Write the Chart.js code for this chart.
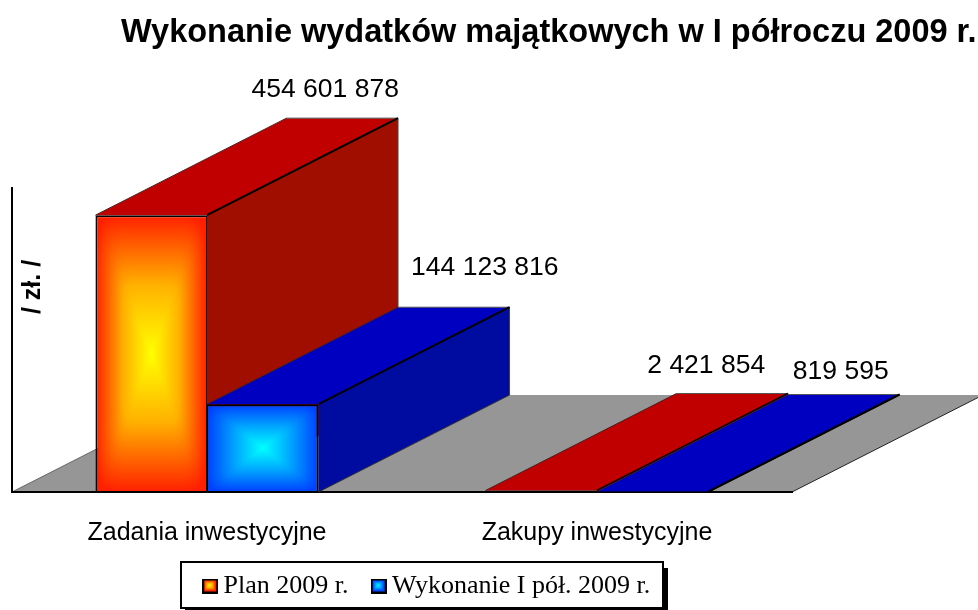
<!DOCTYPE html>
<html><head><meta charset="utf-8">
<style>html,body{margin:0;padding:0;background:#fff;overflow:hidden}#w{position:relative;width:978px;height:610px}</style>
<script src="https://cdn.jsdelivr.net/npm/chart.js@4"></script></head>
<body><div id="w"><canvas id="c" width="978" height="610"></canvas></div>
<script>
const categories = ["Zadania inwestycyjne", "Zakupy inwestycyjne"];
const seriesNames = ["Plan 2009 r.", "Wykonanie I pół. 2009 r."];
const planValues = [454601878, 2421854];
const actualValues = [144123816, 819595];
const chartTitle = "Wykonanie wydatków majątkowych w I półroczu 2009 r.";
const axisTitle = "/ zł. /";
const axisMax = 500000000;

const depthX = 191, depthY = 97, catPct = 0.572;
const faces = [
  {top:"#C00000", side:"#A00E00", stops:[[255,32,0],[255,176,0],[255,255,0]]},
  {top:"#0000C0", side:"#000C9F", stops:[[0,64,255],[0,165,255],[0,255,255]]}
];
const labelShift = [[[-17, -5], [-26, -5]], [[31, -16], [-3, 0]]]; // dataset, category: offset from the back top edge

const fmt = v => String(v).replace(/\B(?=(\d{3})+$)/g, " ");

function paintPathGradient(g, x0, y0, w, h, stops, pad) {
  const X = Math.floor(x0) - pad, Y = Math.floor(y0) - pad;
  const W = Math.ceil(w) + 2*pad + 1, H = Math.ceil(h) + 2*pad + 1;
  const img = g.createImageData(W, H), cx = x0 + w/2, cy = y0 + h/2, P = 8;
  for (let j = 0; j < H; j++) for (let i = 0; i < W; i++) {
    const dx = Math.abs(X + i + .5 - cx) / (w/2), dy = Math.abs(Y + j + .5 - cy) / (h/2);
    let t = 1 - Math.pow(Math.pow(dx, P) + Math.pow(dy, P), 1/P);
    t = Math.max(0, Math.min(1, t));
    const a = t < .5 ? stops[0] : stops[1], b = t < .5 ? stops[1] : stops[2], u = t < .5 ? t*2 : t*2 - 1;
    const k = (j*W + i)*4;
    for (let c = 0; c < 3; c++) img.data[k+c] = a[c] + (b[c]-a[c])*u;
    img.data[k+3] = 255;
  }
  g.putImageData(img, X, Y);
}
function frontFill(ctx) {
  const chart = ctx.chart, f = faces[ctx.datasetIndex];
  const xs = chart.scales.x, ys = chart.scales.y;
  if (!xs || xs.width <= 0 || ctx.dataIndex === undefined) return "#000";
  const centre = xs.getPixelForValue(ctx.dataIndex);
  const bw = xs.width / categories.length * catPct / 2;
  const x0 = centre + (ctx.datasetIndex - 1) * bw;
  const val = chart.data.datasets[ctx.datasetIndex].data[ctx.dataIndex];
  const yTop = ys.getPixelForValue(val), yBase = ys.getPixelForValue(0);
  const off = document.createElement("canvas");
  off.width = chart.width; off.height = chart.height;
  paintPathGradient(off.getContext("2d"), x0, yTop, bw, Math.max(yBase - yTop, 1), f.stops, 3);
  return chart.ctx.createPattern(off, "no-repeat");
}
function legendMarker(f) {
  const s = document.createElement("canvas"); s.width = 16; s.height = 15;
  const g = s.getContext("2d");
  g.fillStyle = "#000"; g.fillRect(0,0,16,15);
  paintPathGradient(g, 2, 2, 11, 10, f.stops, 0);
  return s;
}
function poly(ctx, pts, fill) {
  ctx.beginPath();
  pts.forEach((p,i)=> i ? ctx.lineTo(p[0],p[1]) : ctx.moveTo(p[0],p[1]));
  ctx.closePath();
  ctx.fillStyle = fill; ctx.fill();
}
function seg(ctx, a, b, col, w) {
  ctx.strokeStyle = col; ctx.lineWidth = w;
  ctx.beginPath(); ctx.moveTo(a[0],a[1]); ctx.lineTo(b[0],b[1]); ctx.stroke();
}

const scene3d = {
  id: "scene3d",
  afterLayout(chart) {
    const t = chart.titleBlock, l = chart.legend;
    t.left = 121; t.right = 1100;
    l.left = 180; l.right = 760; l.top = 543; l.bottom = 610;
  },
  beforeDraw(chart) {
    const ctx = chart.ctx, a = chart.chartArea, bY = a.bottom;
    ctx.save();
    // legend frame with shadow
    ctx.fillStyle = "#000"; ctx.fillRect(185, 568, 483, 42);
    ctx.fillStyle = "#fff"; ctx.fillRect(181, 562, 482, 46);
    ctx.strokeStyle = "#000"; ctx.lineWidth = 2; ctx.strokeRect(181, 562, 482, 46);
    // floor
    const p = [[a.left,bY],[a.right,bY],[a.right+depthX,bY-depthY],[a.left+depthX,bY-depthY]];
    poly(ctx, p, "#969696");
    seg(ctx, p[1], p[2], "#222", 1);
    seg(ctx, p[3], p[0], "#666", 1);
    ctx.restore();
  },
  beforeDatasetsDraw(chart) {
    const ctx = chart.ctx;
    ctx.save();
    [0,1].forEach(ci => {
      [0,1].forEach(di => {
        const el = chart.getDatasetMeta(di).data[ci], f = faces[di];
        const hw = el.width/2, L = el.x-hw, R = el.x+hw, T = el.y, B = el.base;
        const d = (pt) => [pt[0]+depthX, pt[1]-depthY];
        const fl=[L,T], fr=[R,T], br=[R,B];
        poly(ctx, [fr,d(fr),d(br),br], f.side);
        poly(ctx, [fl,fr,d(fr),d(fl)], f.top);
        seg(ctx, fl, d(fl), "#4a2020", 1);
        seg(ctx, d(fl), d(fr), "#555", 1);
        seg(ctx, d(fr), d(br), "#444", 1);
        seg(ctx, br, d(br), ci ? "#000" : "#333", 1);
        seg(ctx, fr, d(fr), "#000", 2);
      });
    });
    ctx.restore();
  },
  afterDatasetsDraw(chart) {
    const ctx = chart.ctx;
    ctx.save();
    ctx.fillStyle = "#000"; ctx.font = "26.5px 'Liberation Sans'";
    ctx.textAlign = "center"; ctx.textBaseline = "alphabetic";
    [0,1].forEach(di => chart.getDatasetMeta(di).data.forEach((el,ci) => {
      const v = chart.data.datasets[di].data[ci], s = labelShift[di][ci];
      ctx.fillText(fmt(v), el.x + depthX + s[0], el.y - depthY + s[1] - 16);
    }));
    ctx.translate(40, 287); ctx.rotate(-Math.PI/2);
    ctx.font = "bold 25px 'Liberation Sans'";
    ctx.fillText(axisTitle, 0, 0);
    ctx.restore();
  }
};

new Chart(document.getElementById("c"), {
  type: "bar",
  data: {
    labels: categories,
    datasets: [
      {label: seriesNames[0], data: planValues, backgroundColor: frontFill, borderColor:"#000", borderWidth:{top:2,left:2,right:1,bottom:1}, borderSkipped:false, categoryPercentage:catPct, barPercentage:1},
      {label: seriesNames[1], data: actualValues, backgroundColor: frontFill, borderColor:"#000", borderWidth:{top:2,left:1,right:2,bottom:1}, borderSkipped:false, categoryPercentage:catPct, barPercentage:1}
    ]
  },
  options: {
    responsive: false, animation: false,
    layout: {padding: {left: 12, right: 186, top: 0, bottom: 0}},
    scales: {
      x: {
        grid: {display:false},
        border: {color:"#000", width:2},
        ticks: {color:"#000", font:{family:"'Liberation Sans'", size:25}, padding:18, maxRotation:0, autoSkip:false},
        afterFit(s) { s.height = 118 - s.chart.legend.height; }
      },
      y: {
        min: 0, max: axisMax,
        grid: {display:false},
        border: {color:"#000", width:2},
        ticks: {display:false},
        afterFit(s) { s.width = 0; }
      }
    },
    plugins: {
      title: {display:true, text: chartTitle, align:"start", color:"#000",
        font:{family:"'Liberation Sans'", size:32.5, weight:"bold", lineHeight:1.2},
        padding:{top:13.5, bottom:135}},
      legend: {display:true, position:"bottom", align:"start", maxHeight:10,
        labels: {
          usePointStyle:true, pointStyleWidth:0.5, padding:30, color:"#000",
          font:{family:"'Liberation Serif'", size:26},
          generateLabels(chart) {
            return chart.data.datasets.map((d,i)=>({text:d.label, datasetIndex:i, pointStyle:legendMarker(faces[i]), fontColor:"#000", hidden:false, lineWidth:0, strokeStyle:"transparent", fillStyle:"transparent"}));
          }
        }
      },
      tooltip: {enabled:false}
    }
  },
  plugins: [scene3d]
});
</script></body></html>
